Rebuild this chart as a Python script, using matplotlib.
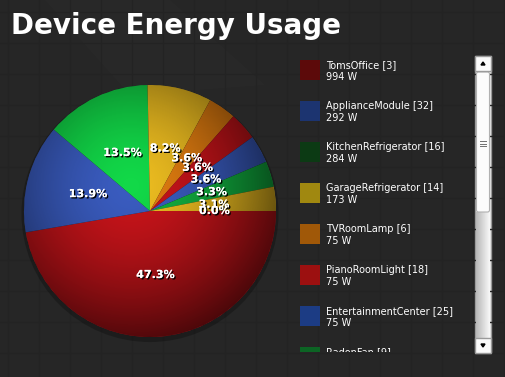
import numpy as np
import matplotlib
matplotlib.use('Agg')
import matplotlib.pyplot as plt
import matplotlib.patheffects as pe
from matplotlib.patches import Rectangle, Circle, Polygon, FancyBboxPatch

# Данные: устройства и потребление (Вт)
devices = ['TomsOffice [3]', 'ApplianceModule [32]', 'KitchenRefrigerator [16]',
           'GarageRefrigerator [14]', 'TVRoomLamp [6]', 'PianoRoomLight [18]',
           'EntertainmentCenter [25]', 'RadonFan [9]']
watts = [994, 292, 284, 173, 75, 75, 75, 69, 65, 0]

# Цвета секторов и образцов легенды
slice_colors = ['#c8141a', '#3a5cc0', '#12d848', '#ecbc20', '#e07c10',
                '#c8141a', '#3a5cc0', '#12b040', '#ecbc20', '#3a5cc0']
swatch_colors = ['#5c0a0a', '#1c3470', '#0c3a14', '#a08810', '#a05808',
                 '#9c1010', '#1c3c84', '#0c6424']

W, H = 506, 377
fig = plt.figure(figsize=(W / 100, H / 100), dpi=100)
fig.patch.set_facecolor('#262626')

# Фон с едва заметной сеткой
bg = fig.add_axes([0, 0, 1, 1], zorder=0)
bg.axis('off')
for gx in range(8, W, 31):
    bg.axvline(gx, color='#232323', lw=1)
for gy in range(12, H, 31):
    bg.axhline(gy, color='#232323', lw=1)
bg.add_patch(Polygon([(45, 0), (170, 0), (265, 85), (130, 95)],
                     closed=True, color='white', alpha=0.012, lw=0))

# Заголовок
fig.text(11 / W, 1 - 34 / H, 'Device Energy Usage', color='white',
         fontsize=20, fontweight='bold', family='DejaVu Sans', va='baseline')

# Круговая диаграмма
cx, cy, R = 150, 211, 126
ax = fig.add_axes([(cx - R) / W, 1 - (cy + R) / H, 2 * R / W, 2 * R / H], zorder=1)
ax.axis('off')

# тень под диаграммой
ax.add_patch(Circle((0.0, -0.02), 1.02, color='black', alpha=0.25, lw=0, clip_on=False))

wedges, texts, autotexts = ax.pie(
    watts, colors=slice_colors, startangle=0, counterclock=False, radius=1,
    autopct='%1.1f%%', pctdistance=0.51,
    wedgeprops=dict(linewidth=0),
    textprops=dict(color='white', fontsize=8, fontweight='bold'))
for t in autotexts:
    t.set_path_effects([pe.withSimplePatchShadow(offset=(1, -1), shadow_rgbFace='black', alpha=1.0),
                        pe.Normal()])
    t.set_zorder(5)

# объёмная заливка (затемнение к краю)
n = 300
xs = np.linspace(-1, 1, n)
X, Y = np.meshgrid(xs, xs[::-1])
d = np.sqrt((X + 0.15) ** 2 + (Y - 0.2) ** 2) / 1.25
shade = np.zeros((n, n, 4))
shade[..., 3] = 0.62 * np.clip(d, 0, 1) ** 1.7
im = ax.imshow(shade, extent=(-1, 1, -1, 1), zorder=3, interpolation='bilinear')
im.set_clip_path(Circle((0, 0), 1, transform=ax.transData))
ax.set_xlim(-1, 1)
ax.set_ylim(-1, 1)
ax.set_aspect('equal')

# Легенда (прокручиваемая панель)
lx0, lx1, ly0, ly1 = 295, 474, 56, 352
lg = fig.add_axes([lx0 / W, 1 - ly1 / H, (lx1 - lx0) / W, (ly1 - ly0) / H], zorder=2)
lg.set_xlim(lx0, lx1)
lg.set_ylim(ly1, ly0)
lg.axis('off')
for i, (name, w) in enumerate(zip(devices, watts)):
    top = 60 + i * 41
    lg.add_patch(Rectangle((300, top), 20, 20, color=swatch_colors[i], lw=0))
    lg.text(326, top + 5, name, color='white', fontsize=7, va='center', clip_on=True)
    lg.text(326, top + 17, f'{w} W', color='white', fontsize=7, va='center', clip_on=True)

# Полоса прокрутки
sx0, sx1 = 475, 491
bg.add_patch(Rectangle((sx0, 56), sx1 - sx0, 297, facecolor='#f0f0f0', edgecolor='#9a9a9a', lw=1))
grad = np.linspace(0.72, 0.97, 20)[None, :].repeat(10, axis=0)
bg.imshow(grad, cmap='gray', vmin=0, vmax=1, extent=(sx0 + 1, sx1 - 1, 338, 212),
          aspect='auto', zorder=2)
bg.add_patch(FancyBboxPatch((sx0 + 1.5, 72), sx1 - sx0 - 3, 140,
                            boxstyle='round,pad=0,rounding_size=2',
                            facecolor='#fbfbfb', edgecolor='#b0b0b0', lw=0.8, zorder=3))
for gy in (141, 143.5, 146):
    bg.plot([480, 486], [gy, gy], color='#707070', lw=0.7, zorder=4)
bg.add_patch(Rectangle((sx0, 56), sx1 - sx0, 15, facecolor='#fafafa', edgecolor='#9a9a9a', lw=1, zorder=3))
bg.add_patch(Rectangle((sx0, 338), sx1 - sx0, 15, facecolor='#fafafa', edgecolor='#9a9a9a', lw=1, zorder=3))
bg.add_patch(Polygon([(481, 65), (485, 65), (483, 62)], closed=True, color='black', zorder=4))
bg.add_patch(Polygon([(481, 344), (485, 344), (483, 347)], closed=True, color='black', zorder=4))
bg.set_xlim(0, W)
bg.set_ylim(H, 0)
bg.set_aspect('auto')

fig.savefig('out.png', dpi=100, facecolor=fig.get_facecolor())
